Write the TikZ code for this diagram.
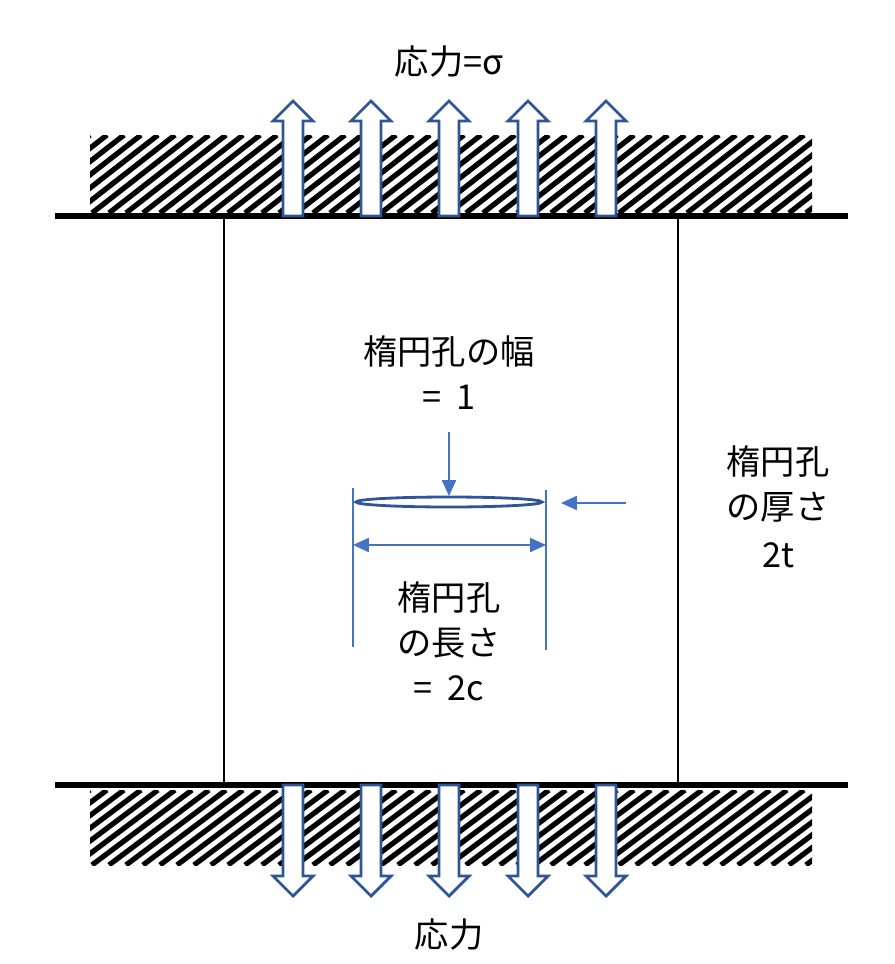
\documentclass[tikz,border=0pt]{standalone}
\usepackage{fontspec}
\setmainfont{Noto Sans CJK JP}
\usetikzlibrary{arrows.meta}
\definecolor{darkblue}{RGB}{47,85,151}
\definecolor{dimblue}{RGB}{68,114,196}
\tikzset{
  fatarrow/.style={draw=darkblue, fill=white, line width=1.6pt},
  dim/.style={draw=dimblue, line width=0.9pt},
  dimarrow/.style={dim, -{Triangle[length=9pt,width=8pt]}},
  lbl/.style={font=\fontsize{19.5}{23}\selectfont, align=center, inner sep=0pt}
}
\newcommand{\hatchblock}[2]{%
  \begin{scope}
    \clip (90,#1) rectangle (812,#2);
    \foreach \k in {0,...,50} {
      \draw[line width=3pt] (90+17*\k-100,#2) -- (90+17*\k,#1);
    }
  \end{scope}}
\begin{document}
\begin{tikzpicture}[x=0.02cm, y=-0.02cm]
  \useasboundingbox (0,0) rectangle (894,964);
  % hatched supports
  \hatchblock{135}{213}
  \hatchblock{790}{865}
  % plate
  \draw[line width=3.5pt] (55,216) -- (848,216);
  \draw[line width=3.5pt] (55,785) -- (848,785);
  \draw[line width=1pt] (224,216) -- (224,785);
  \draw[line width=1pt] (678,216) -- (678,785);
  % stress arrows
  \foreach \x in {293,371,449,528,606} {
    \draw[fatarrow] (\x-10,216) -- (\x-10,121) -- (\x-20,121) -- (\x,101)
      -- (\x+20,121) -- (\x+10,121) -- (\x+10,216) -- cycle;
    \draw[fatarrow] (\x-10,785) -- (\x-10,876) -- (\x-20,876) -- (\x,896)
      -- (\x+20,876) -- (\x+10,876) -- (\x+10,785) -- cycle;
  }
  \node[lbl] (top) at (449,62) {応力=σ};
  \node[lbl] (bottom) at (449,935) {応力};
  % elliptical hole
  \draw[draw=darkblue, line width=1.6pt] (449,502) ellipse (93 and 5);
  \coordinate (holetop) at (449,496);
  \coordinate (widthstart) at (449,432);
  \draw[dimarrow] (widthstart) -- (holetop);
  \node[lbl] (width) at (449,352) {楕円孔の幅};
  \node[lbl] (widthval) at (449,397) {=\ \ 1};
  % length dimension
  \draw[dim] (353,488) -- (353,647);
  \draw[dim] (546,490) -- (546,650);
  \coordinate (la) at (353,545);
  \coordinate (lb) at (546,545);
  \draw[dim, {Triangle[length=9pt,width=8pt]}-{Triangle[length=9pt,width=8pt]}] (la) -- (lb);
  \node[lbl] (len1) at (449,598) {楕円孔};
  \node[lbl] (len2) at (449,643) {の長さ};
  \node[lbl] (len3) at (449,688) {=\ \ 2c};
  % thickness
  \coordinate (ta) at (626,503);
  \coordinate (tb) at (561,503);
  \draw[dimarrow] (ta) -- (tb);
  \node[lbl] (th1) at (778,462) {楕円孔};
  \node[lbl] (th2) at (778,507) {の厚さ};
  \node[lbl] (th3) at (778,555) {2t};
\end{tikzpicture}
\end{document}
